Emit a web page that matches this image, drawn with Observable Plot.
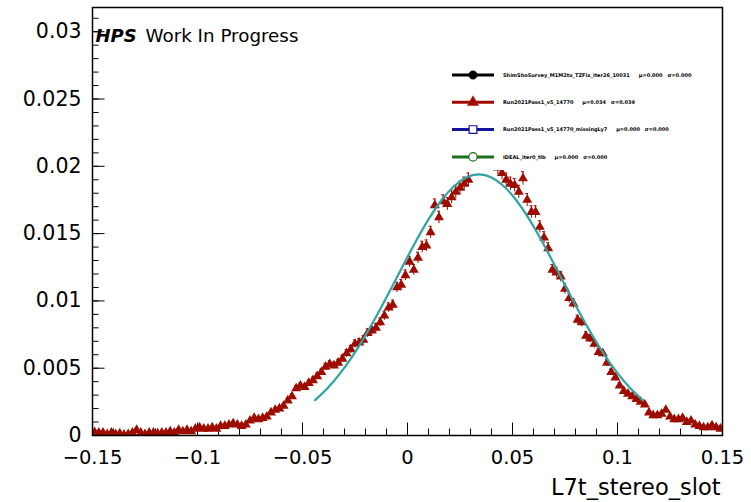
<!DOCTYPE html>
<html><head><meta charset="utf-8">
<script src="https://cdn.jsdelivr.net/npm/d3@7"></script>
<script src="https://cdn.jsdelivr.net/npm/@observablehq/plot@0.6"></script>
<style>
html,body{margin:0;padding:0;background:#fff;}
#chart{width:751px;height:502px;}
</style></head><body><div id="chart"></div>
<script>
// ---------- data ----------
const binFirstCenter = -0.149;
const binWidth = 0.002;
const counts = [
0.00025,0.0002,0.0002,0.0001,0.0002,0.0001,0.00015,0.00005,0.0001,0.0002,
0.0004,0.0002,0.0001,0.0002,0.0002,0.00015,0.0002,0.0002,0.0003,0.0002,
0.0004,0.0003,0.0004,0.0003,0.0005,0.0006,0.0005,0.0005,0.0006,0.0005,
0.0007,0.0007,0.0008,0.0009,0.0008,0.0007,0.0008,0.0011,0.0013,0.0012,
0.0013,0.0014,0.0017,0.0019,0.002,0.0022,0.0026,0.0029,0.0035,0.0037,
0.0036,0.0039,0.0041,0.0044,0.0047,0.0051,0.0053,0.0052,0.0054,0.0057,
0.0061,0.0064,0.0068,0.0069,0.0071,0.0076,0.0078,0.008,0.0084,0.0089,
0.0095,0.0097,0.011,0.0112,0.0119,0.0129,0.0123,0.0132,0.014,0.0141,
0.0151,0.0171,0.0162,0.0174,0.0172,0.0177,0.0181,0.0184,0.0187,0.019,
0.0202,0.0204,0.0206,0.0207,0.0205,0.0203,0.0199,0.0195,0.019,0.0187,
0.0186,0.0181,0.0191,0.0175,0.0166,0.0166,0.0155,0.0147,0.0139,0.0123,
0.0121,0.0118,0.0109,0.0102,0.0098,0.0086,0.0084,0.0074,0.0072,0.0068,
0.0062,0.0061,0.0054,0.0047,0.0043,0.0037,0.0033,0.0031,0.0029,0.0027,
0.0025,0.0023,0.0017,0.0015,0.0015,0.0016,0.0019,0.0014,0.0012,0.0012,
0.0013,0.001,0.0011,0.0008,0.0007,0.0006,0.0006,0.00075,0.0006,0.0005];
const peakError = 0.0005;   // error bar half-height at the peak (~0.019)

// Gaussian fit curve (mu=0.034, sigma=0.039), fitted over mu +/- 2 sigma
const fitX = [-0.044,-0.038,-0.032,-0.026,-0.020,-0.014,-0.008,-0.002,0.004,0.010,0.016,0.022,0.028,0.034,
              0.040,0.046,0.052,0.058,0.064,0.070,0.076,0.082,0.088,0.094,0.100,0.106,0.112];
const fitY = [0.002626,0.003530,0.004633,0.005940,0.007439,0.009096,0.010863,0.012671,0.014431,0.016054,0.017440,0.018503,0.019172,0.0194,
              0.019172,0.018503,0.017440,0.016054,0.014431,0.012671,0.010863,0.009096,0.007439,0.005940,0.004633,0.003530,0.002626];

const xTicks = [-0.15,-0.1,-0.05,0,0.05,0.1,0.15];
const xTickLabels = ["\u22120.15","\u22120.1","\u22120.05","0","0.05","0.1","0.15"];
const yTicks = [0,0.005,0.01,0.015,0.02,0.025,0.03];
const yTickLabels = ["0","0.005","0.01","0.015","0.02","0.025","0.03"];
const xTitle = "L7t_stereo_slot";

const legendNames = ["ShimShoSurvey_M1M2tu_TZFix_iter26_10031","Run2021Pass1_v5_14770","Run2021Pass1_v5_14770_missingLy7","IDEAL_iter0_tlb"];
const legendMu = ["\u03bc=0.000","\u03bc=0.034","\u03bc=0.000","\u03bc=0.000"];
const legendSigma = ["\u03c3=0.000","\u03c3=0.039","\u03c3=0.000","\u03c3=0.000"];
const legendColors = ["#000000","#a00c00","#14149a","#1b6e1b"];
const legendSymbols = ["circle","triangle","square","circle"];
const legendFilled = [true,true,false,false];

// ---------- layout ----------
const W = 751, H = 502, mL = 92, mR = 29, mT = 7, mB = 67;
const xDomain = [-0.15, 0.15], yDomain = [0, 0.0318];
const FONT = "'DejaVu Sans', 'Liberation Sans', Arial, sans-serif";
const red = "#9e0c00", teal = "#2ea4a4";

const points = counts.map((v, i) => ({x: binFirstCenter + i * binWidth, v, e: peakError * Math.sqrt(v / 0.019)}));
const fit = fitX.map((x, i) => ({x, y: fitY[i]}));

const pxX = (xDomain[1] - xDomain[0]) / (W - mL - mR);
const pxY = (yDomain[1] - yDomain[0]) / (H - mT - mB);
const yMinor = d3.range(0, 32).map(i => i / 1000);
const xMinor = d3.range(-15, 16).map(i => i / 100);
const xLab = new Map(xTicks.map((t, i) => [t, xTickLabels[i]]));
const yLab = new Map(yTicks.map((t, i) => [t, yTickLabels[i]]));

const plot = Plot.plot({
  width: W, height: H,
  marginLeft: mL, marginRight: mR, marginTop: mT, marginBottom: mB,
  x: {domain: xDomain},
  y: {domain: yDomain},
  style: {background: "white", fontFamily: FONT, color: "black"},
  marks: [
    // ticks (inward)
    Plot.ruleY(yMinor, {x1: xDomain[0], x2: xDomain[0] + 6.5 * pxX, stroke: "black", strokeWidth: 1}),
    Plot.ruleY(yTicks, {x1: xDomain[0], x2: xDomain[0] + 12.5 * pxX, stroke: "black", strokeWidth: 1}),
    Plot.ruleX(xMinor, {y1: 0, y2: 6.5 * pxY, stroke: "black", strokeWidth: 1}),
    Plot.ruleX(xTicks, {y1: 0, y2: 12.5 * pxY, stroke: "black", strokeWidth: 1}),
    Plot.axisY({ticks: yTicks, tickSize: 0, tickPadding: 11, tickFormat: d => yLab.get(d), fontSize: 20.5, label: null}),
    Plot.axisX({ticks: xTicks, tickSize: 0, tickPadding: 15, tickFormat: d => xLab.get(d), fontSize: 19.5, label: null}),
    // data
    Plot.ruleX(points, {x: "x", y1: d => d.v - d.e, y2: d => d.v + d.e, stroke: red, strokeWidth: 1, clip: true}),
    Plot.ruleY(points, {y: d => d.v + d.e, x1: d => d.x - 1.5 * pxX, x2: d => d.x + 1.5 * pxX, stroke: red, strokeWidth: 1, clip: true}),
    Plot.dot(points, {x: "x", y: "v", symbol: "triangle", r: 3.7, fill: red, stroke: "none", clip: true}),
    Plot.line(fit, {x: "x", y: "y", stroke: teal, strokeWidth: 2.2, curve: "natural"}),
    Plot.frame({stroke: "black", strokeWidth: 1.5}),
    // labels
    Plot.text(["HPS"], {frameAnchor: "top-left", dx: 3, dy: 34, lineAnchor: "bottom", textAnchor: "start", fontSize: 18, fontWeight: "bold", fontStyle: "italic", fill: "black"}),
    Plot.text(["Work In Progress"], {frameAnchor: "top-left", dx: 53, dy: 34, lineAnchor: "bottom", textAnchor: "start", fontSize: 18.3, fill: "black"}),
    Plot.text([xTitle], {frameAnchor: "bottom-right", dx: -2, dy: 59, lineAnchor: "bottom", textAnchor: "end", fontSize: 22.5, fill: "black"})
  ]
});

// ---------- legend (white box covering the plot area, as in the original) ----------
const svg = d3.select(plot);
const g = svg.append("g").attr("font-family", FONT).attr("text-anchor", "start");
g.append("rect").attr("x", 447).attr("y", 62).attr("width", 274).attr("height", 108).attr("fill", "white");
const symbolTypes = {circle: d3.symbolCircle, triangle: d3.symbolTriangle, square: d3.symbolSquare};
legendNames.forEach((name, i) => {
  const y = 75 + i * 27.3;
  const c = legendColors[i];
  g.append("line").attr("x1", 452).attr("x2", 494).attr("y1", y).attr("y2", y)
    .attr("stroke", c).attr("stroke-width", 3);
  const sym = d3.symbol().type(symbolTypes[legendSymbols[i]]).size(legendSymbols[i] === "square" ? 60 : 55);
  g.append("path").attr("d", sym()).attr("transform", `translate(473,${y})`)
    .attr("fill", legendFilled[i] ? c : "white").attr("stroke", c).attr("stroke-width", legendFilled[i] ? 0.5 : 1.2);
  const t = g.append("text").attr("x", 503).attr("y", y).attr("dy", "0.35em")
    .attr("text-anchor", "start").attr("font-size", 5).attr("font-weight", "bold").attr("fill", "black");
  t.append("tspan").text(name);
  t.append("tspan").attr("dx", 9).text(legendMu[i]);
  t.append("tspan").attr("dx", 5).text(legendSigma[i]);
});

document.getElementById("chart").appendChild(plot);
</script>
</body></html>
